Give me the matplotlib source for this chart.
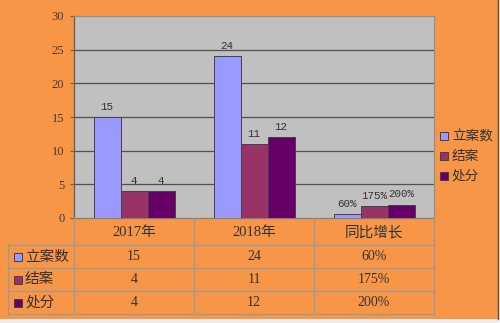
import matplotlib
matplotlib.use("Agg")
import matplotlib.pyplot as plt
from matplotlib.patches import Rectangle
import numpy as np

# --- data ---
categories = ["2017年", "2018年", "同比增长"]
series_names = ["立案数", "结案", "处分"]
cases_filed = [15, 24]      # 立案数
cases_closed = [4, 11]      # 结案
sanctions = [4, 12]         # 处分
growth_pct = [60, 175, 200] # 同比增长 (%), per series
yticks = [0, 5, 10, 15, 20, 25, 30]

colors = ["#9999FF", "#993366", "#660066"]
orange = "#F79646"
serif_cjk = ["Liberation Serif", "Noto Sans CJK SC"]
sans_cjk = ["Noto Sans CJK SC", "DejaVu Sans"]
text_col = "#333333"

W, H = 500, 323
fig = plt.figure(figsize=(W / 100, H / 100), dpi=100)
fig.patch.set_facecolor(orange)


def fx(px):
    return px / W


def fy(py):
    return 1 - py / H


# plot area in pixel coordinates
L, R, T, B = 74, 434, 16, 218
ax = fig.add_axes([fx(L), fy(B), fx(R) - fx(L), fy(T) - fy(B)])
ax.set_facecolor("#C0C0C0")

series_vals = [
    cases_filed + [growth_pct[0] / 100],
    cases_closed + [growth_pct[1] / 100],
    sanctions + [growth_pct[2] / 100],
]
labels = [
    [str(v) for v in cases_filed] + [f"{growth_pct[0]}%"],
    [str(v) for v in cases_closed] + [f"{growth_pct[1]}%"],
    [str(v) for v in sanctions] + [f"{growth_pct[2]}%"],
]

x = np.arange(len(categories))
bw = 0.225
for i, (vals, lab) in enumerate(zip(series_vals, labels)):
    pos = x + (i - 1) * bw
    ax.bar(pos, vals, width=bw, color=colors[i], edgecolor="#404050",
           linewidth=0.7, zorder=3)
    for p, v, t in zip(pos, vals, lab):
        ax.text(p, v + 0.8, t, ha="center", va="bottom", fontsize=7.8,
                family="Liberation Mono", color=text_col, zorder=4)

ax.set_xlim(-0.5, 2.5)
ax.set_ylim(0, 30)
ax.set_yticks(yticks)
ax.set_yticklabels([str(t) for t in yticks], family="Liberation Serif",
                   fontsize=9, color="#4a3a30")
ax.set_xticks([])
ax.tick_params(axis="y", length=3, width=0.8, color="#606060", pad=4)
for t in yticks[1:-1]:
    ax.axhline(t, color="#505050", lw=0.9, zorder=1)
ax.spines["left"].set_color("#606060")
ax.spines["top"].set_color("#909090")
ax.spines["right"].set_color("#909090")
ax.spines["bottom"].set_color("#808080")
for s in ax.spines.values():
    s.set_linewidth(0.9)

# overlay in pixel coordinates for the data table, legend and frame
ov = fig.add_axes([0, 0, 1, 1], facecolor="none")
ov.set_xlim(0, W)
ov.set_ylim(H, 0)
ov.axis("off")

line_col = "#9A9A9A"
rows_y = [218, 245, 268, 291, 314]
cols_x = [8, 74, 194, 314, 434]
for yy in rows_y[1:]:
    ov.plot([cols_x[0], cols_x[-1]], [yy, yy], color=line_col, lw=0.9)
ov.plot([cols_x[0], cols_x[0]], [rows_y[1], rows_y[-1]], color=line_col, lw=0.9)
for xx in cols_x[1:]:
    ov.plot([xx, xx], [rows_y[0], rows_y[-1]], color=line_col, lw=0.9)

# header row: category names
for j, c in enumerate(categories):
    cx = (cols_x[j + 1] + cols_x[j + 2]) / 2
    ov.text(cx, (rows_y[0] + rows_y[1]) / 2 + 1, c, ha="center", va="center",
            fontsize=10.5, family=serif_cjk if j < 2 else sans_cjk,
            color=text_col)

# body rows
table_vals = [
    [str(v) for v in cases_filed] + [f"{growth_pct[0]}%"],
    [str(v) for v in cases_closed] + [f"{growth_pct[1]}%"],
    [str(v) for v in sanctions] + [f"{growth_pct[2]}%"],
]
for i, name in enumerate(series_names):
    cy = (rows_y[i + 1] + rows_y[i + 2]) / 2
    ov.add_patch(Rectangle((14, cy - 4), 8, 8, facecolor=colors[i],
                           edgecolor="#404050", lw=0.7))
    ov.text(25, cy, name, ha="left", va="center", fontsize=10.5,
            family=sans_cjk, color=text_col)
    for j, t in enumerate(table_vals[i]):
        cx = (cols_x[j + 1] + cols_x[j + 2]) / 2
        ov.text(cx, cy, t, ha="center", va="center", fontsize=10,
                family="Liberation Serif", color=text_col)

# legend
leg_y = [136, 156, 176]
for i, name in enumerate(series_names):
    ov.add_patch(Rectangle((440, leg_y[i] - 4), 8, 8, facecolor=colors[i],
                           edgecolor="#404050", lw=0.7))
    ov.text(452, leg_y[i], name, ha="left", va="center", fontsize=9.8,
            family=sans_cjk, color=text_col)

# outer frame of the sheet
ov.add_patch(Rectangle((0, 319), W, 4, facecolor="#ECECEC", edgecolor="none"))
ov.add_patch(Rectangle((498, 0), 2, 323, facecolor="#F4F4F4", edgecolor="none"))
ov.plot([497.5, 497.5], [0, 319], color="#5A4A40", lw=1.0)

fig.savefig("out.png", dpi=100, facecolor=fig.get_facecolor())
